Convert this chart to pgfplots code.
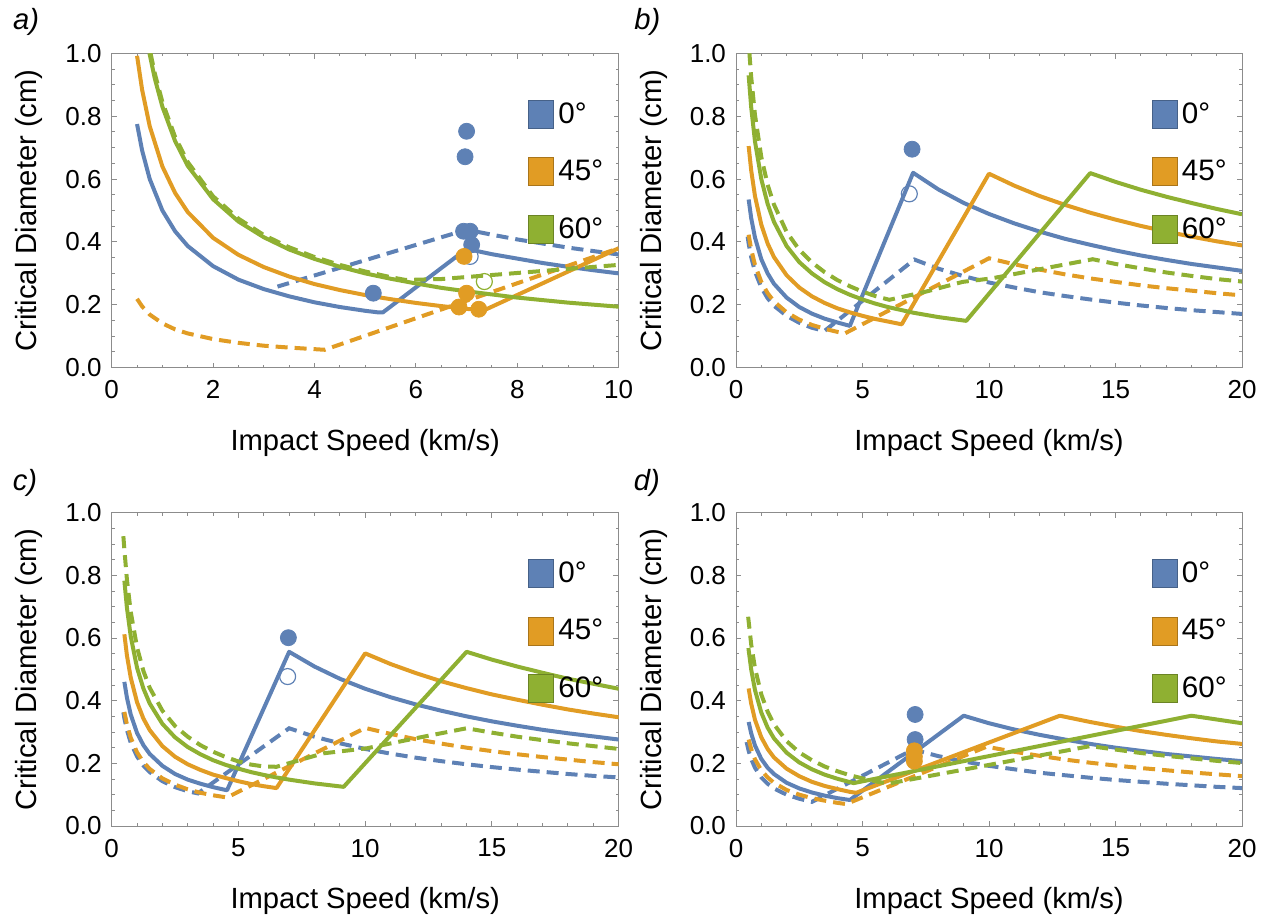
\documentclass[border=0pt]{standalone}
\usepackage{fontspec}
\setmainfont{Liberation Sans}
\usepackage{pgfplots}
\pgfplotsset{compat=1.18}
\definecolor{cblue}{HTML}{5E81B5}
\definecolor{corange}{HTML}{E19C24}
\definecolor{cgreen}{HTML}{8FB032}
\definecolor{framegray}{HTML}{8C8C8C}
\newcommand{\tickfont}{\fontsize{13}{13}\selectfont}
\newcommand{\labfont}{\fontsize{14.6}{15}\selectfont}
\newcommand{\legfont}{\fontsize{14.8}{15}\selectfont}
\tikzset{
  sl/.style={line width=2pt, line join=round},
  dl/.style={line width=2pt, dash pattern=on 6pt off 3.5pt},
}
\pgfplotsset{
  panel/.style={
    scale only axis, height=157.2pt,
    axis line style={draw=framegray, line width=0.5pt},
    every tick/.style={draw=framegray, line width=0.5pt},
    major tick length=2.6pt, minor tick length=1.5pt,
    tick align=inside,
    ymin=0, ymax=1, ytick={0,0.2,0.4,0.6,0.8,1}, minor y tick num=3,
    ticklabel style={font=\tickfont, /pgf/number format/assume math mode=true},
    yticklabel style={/pgf/number format/.cd, fixed, fixed zerofill, precision=1, /tikz/.cd, xshift=-1.5pt},
    xticklabel style={yshift=-3pt},
    xlabel={Impact Speed (km/s)}, ylabel={Critical Diameter (cm)},
    label style={font=\labfont},
    xlabel style={at={(axis description cs:0.5,-0.24)}, anchor=center},
    ylabel style={at={(axis description cs:-0.163,0.5)}, anchor=center},
    title style={font=\labfont\itshape, anchor=center},
    legend style={at={(rel axis cs:0.821,0.858)}, anchor=north west, draw=none, fill=none, font=\legfont, row sep=13pt, inner sep=0pt},
    legend cell align=left,
  },
  sw/.style={legend image code/.code={\draw[fill=#1, draw=#1!75!black, line width=0.5pt] (0pt,-7pt) rectangle (12.5pt,7pt);}},
}
\begin{document}
\begin{tikzpicture}
\useasboundingbox (0,0) rectangle (635pt,459pt);
% ---------------- panel a
\begin{axis}[panel, at={(55.85pt,275.15pt)}, anchor=south west, width=253.5pt,
  xmin=0, xmax=10, xtick={0,2,4,6,8,10}, minor x tick num=3,
  title={a)}, title style={at={(axis description cs:-0.169,1.06)}}]
\addplot[sl, cblue, forget plot] coordinates {(0.5,0.775)(0.6,0.691)(0.75,0.600)(1,0.500)(1.25,0.434)(1.5,0.387)(2,0.323)(2.5,0.280)(3,0.250)(3.5,0.227)(4,0.208)(4.5,0.193)(5,0.181)(5.25,0.176)(5.35,0.176)(7.0,0.378)(7.5,0.361)(8,0.347)(8.5,0.333)(9,0.321)(9.5,0.310)(10,0.300)};
\addplot[dl, cblue, forget plot] coordinates {(3.27,0.258)(7.0,0.439)(7.5,0.423)(8,0.408)(8.5,0.395)(9,0.382)(9.5,0.371)(10,0.360)};
\addplot[sl, corange, forget plot] coordinates {(0.5,0.992)(0.6,0.884)(0.75,0.768)(1,0.640)(1.25,0.556)(1.5,0.495)(2,0.413)(2.5,0.359)(3,0.320)(3.5,0.290)(4,0.266)(4.5,0.247)(5,0.231)(5.5,0.218)(6,0.206)(6.5,0.196)(7,0.187)(7.35,0.183)(10,0.380)};
\addplot[dl, corange, forget plot] coordinates {(0.5,0.219)(0.6,0.195)(0.75,0.169)(1,0.141)(1.25,0.122)(1.5,0.109)(2,0.091)(2.5,0.079)(3,0.070)(3.5,0.064)(4,0.059)(4.2,0.057)(10,0.380)};
\addplot[sl, cgreen, forget plot] coordinates {(0.745,1.0)(0.85,0.920)(1,0.830)(1.25,0.721)(1.5,0.642)(2,0.536)(2.5,0.465)(3,0.415)(3.5,0.376)(4,0.346)(4.5,0.321)(5,0.300)(5.5,0.283)(6,0.268)(6.5,0.254)(7,0.243)(8,0.223)(9,0.207)(10,0.194)};
\addplot[dl, cgreen, forget plot] coordinates {(0.766,1.0)(0.85,0.936)(1,0.845)(1.25,0.734)(1.5,0.654)(2,0.545)(2.5,0.474)(3,0.422)(3.5,0.383)(4,0.352)(4.5,0.327)(5,0.306)(5.5,0.288)(5.8,0.279)(6.5,0.282)(10,0.327)};
\addplot[only marks, mark=*, mark size=4pt, cblue, forget plot] coordinates {(7.0,0.752)(6.97,0.671)(6.94,0.434)(7.07,0.434)(7.1,0.391)(5.16,0.237)};
\addplot[only marks, mark=o, mark size=4pt, cblue, mark options={line width=0.6pt}, forget plot] coordinates {(7.07,0.354)};
\addplot[only marks, mark=*, mark size=4pt, corange, forget plot] coordinates {(6.95,0.354)(7.0,0.237)(6.85,0.193)(7.24,0.186)};
\addplot[only marks, mark=o, mark size=4pt, cgreen, mark options={line width=0.6pt}, forget plot] coordinates {(7.35,0.274)};
\addlegendimage{sw=cblue}\addlegendentry{0°}
\addlegendimage{sw=corange}\addlegendentry{45°}
\addlegendimage{sw=cgreen}\addlegendentry{60°}
\end{axis}
% ---------------- panel b
\begin{axis}[panel, at={(368pt,275.15pt)}, anchor=south west, width=253pt,
  xmin=0, xmax=20, xtick={0,5,10,15,20}, minor x tick num=4,
  title={b)}, title style={at={(axis description cs:-0.175,1.06)}}]
\addplot[sl, cblue, forget plot] coordinates {(0.5,0.535)(0.6,0.476)(0.75,0.414)(1,0.345)(1.25,0.300)(1.5,0.267)(2,0.223)(2.5,0.193)(3,0.172)(3.5,0.156)(4,0.144)(4.5,0.133)(7,0.620)(8,0.567)(9,0.524)(10,0.489)(11,0.459)(12,0.433)(13,0.410)(14,0.391)(15,0.373)(16,0.357)(17,0.343)(18,0.330)(19,0.319)(20,0.308)};
\addplot[dl, cblue, forget plot] coordinates {(0.46,0.417)(0.5,0.395)(0.6,0.352)(0.75,0.306)(1,0.255)(1.25,0.221)(1.5,0.197)(2,0.165)(2.5,0.143)(3,0.127)(3.5,0.117)(7.05,0.344)(8,0.315)(9,0.291)(10,0.271)(11,0.255)(12,0.240)(13,0.228)(14,0.217)(15,0.207)(16,0.198)(17,0.190)(18,0.183)(19,0.177)(20,0.171)};
\addplot[sl, corange, forget plot] coordinates {(0.5,0.705)(0.6,0.628)(0.75,0.546)(1,0.455)(1.25,0.395)(1.5,0.352)(2,0.294)(2.5,0.255)(3,0.227)(3.5,0.206)(4,0.189)(4.5,0.176)(5,0.165)(5.5,0.155)(6,0.147)(6.55,0.138)(10,0.617)(11,0.579)(12,0.546)(13,0.518)(14,0.493)(15,0.471)(16,0.451)(17,0.433)(18,0.417)(19,0.402)(20,0.389)};
\addplot[dl, corange, forget plot] coordinates {(0.5,0.423)(0.6,0.377)(0.75,0.327)(1,0.273)(1.25,0.237)(1.5,0.211)(2,0.176)(2.5,0.153)(3,0.136)(3.5,0.124)(4,0.114)(4.3,0.109)(10,0.348)(11,0.329)(12,0.312)(13,0.297)(14,0.284)(15,0.273)(16,0.262)(17,0.253)(18,0.245)(19,0.237)(20,0.230)};
\addplot[sl, cgreen, forget plot] coordinates {(0.5,0.930)(0.6,0.829)(0.75,0.720)(1,0.600)(1.25,0.521)(1.5,0.464)(2,0.387)(2.5,0.336)(3,0.300)(3.5,0.272)(4,0.250)(4.5,0.232)(5,0.217)(5.5,0.204)(6,0.193)(6.5,0.184)(7,0.175)(8,0.161)(9.1,0.149)(14,0.619)(15,0.591)(16,0.566)(17,0.544)(18,0.524)(19,0.505)(20,0.488)};
\addplot[dl, cgreen, forget plot] coordinates {(0.531,1.0)(0.6,0.925)(0.75,0.804)(1,0.670)(1.25,0.582)(1.5,0.519)(2,0.432)(2.5,0.375)(3,0.335)(3.5,0.304)(4,0.279)(4.5,0.259)(5,0.242)(5.5,0.228)(6.06,0.216)(7.51,0.242)(8.96,0.273)(10.1,0.284)(11.86,0.311)(14.1,0.345)(15,0.330)(16,0.316)(17,0.303)(18,0.292)(19,0.282)(20,0.274)};
\addplot[only marks, mark=*, mark size=4pt, cblue, forget plot] coordinates {(6.96,0.695)};
\addplot[only marks, mark=o, mark size=4pt, cblue, mark options={line width=0.6pt}, forget plot] coordinates {(6.85,0.553)};
\addlegendimage{sw=cblue}\addlegendentry{0°}
\addlegendimage{sw=corange}\addlegendentry{45°}
\addlegendimage{sw=cgreen}\addlegendentry{60°}
\end{axis}
% ---------------- panel c
\begin{axis}[panel, at={(55.85pt,46pt)}, anchor=south west, width=253.5pt, height=156.65pt,
  xmin=0, xmax=20, xtick={0,5,10,15,20}, minor x tick num=4,
  title={c)}, title style={at={(axis description cs:-0.171,1.058)}}]
\addplot[sl, cblue, forget plot] coordinates {(0.5,0.460)(0.6,0.410)(0.75,0.356)(1,0.297)(1.25,0.258)(1.5,0.230)(2,0.192)(2.5,0.166)(3,0.148)(3.5,0.135)(4,0.124)(4.55,0.114)(7,0.556)(8,0.509)(9,0.470)(10,0.438)(11,0.411)(12,0.388)(13,0.368)(14,0.350)(15,0.334)(16,0.320)(17,0.307)(18,0.296)(19,0.286)(20,0.276)};
\addplot[dl, cblue, forget plot] coordinates {(0.46,0.363)(0.5,0.344)(0.6,0.307)(0.75,0.266)(1,0.222)(1.25,0.193)(1.5,0.172)(2,0.143)(2.5,0.124)(3,0.111)(3.4,0.104)(7,0.312)(8,0.285)(9,0.264)(10,0.246)(11,0.231)(12,0.218)(13,0.207)(14,0.197)(15,0.188)(16,0.180)(17,0.173)(18,0.166)(19,0.160)(20,0.155)};
\addplot[sl, corange, forget plot] coordinates {(0.5,0.612)(0.6,0.545)(0.75,0.474)(1,0.395)(1.25,0.343)(1.5,0.306)(2,0.255)(2.5,0.221)(3,0.197)(3.5,0.179)(4,0.164)(4.5,0.153)(5,0.143)(5.5,0.134)(6,0.127)(6.5,0.121)(10,0.551)(11,0.517)(12,0.488)(13,0.462)(14,0.440)(15,0.420)(16,0.403)(17,0.387)(18,0.372)(19,0.359)(20,0.347)};
\addplot[dl, corange, forget plot] coordinates {(0.5,0.364)(0.6,0.325)(0.75,0.282)(1,0.235)(1.25,0.204)(1.5,0.182)(2,0.152)(2.5,0.132)(3,0.117)(3.5,0.106)(4,0.098)(4.55,0.091)(10,0.313)(11,0.294)(12,0.277)(13,0.263)(14,0.250)(15,0.239)(16,0.229)(17,0.220)(18,0.212)(19,0.204)(20,0.197)};
\addplot[sl, cgreen, forget plot] coordinates {(0.5,0.783)(0.6,0.697)(0.75,0.606)(1,0.505)(1.25,0.439)(1.5,0.391)(2,0.326)(2.5,0.283)(3,0.252)(3.5,0.229)(4,0.210)(4.5,0.195)(5,0.183)(5.5,0.172)(6,0.163)(6.5,0.155)(7,0.148)(8,0.136)(9.15,0.125)(14,0.556)(15,0.531)(16,0.509)(17,0.489)(18,0.470)(19,0.454)(20,0.438)};
\addplot[dl, cgreen, forget plot] coordinates {(0.46,0.925)(0.5,0.883)(0.6,0.787)(0.75,0.684)(1,0.570)(1.25,0.495)(1.5,0.441)(2,0.368)(2.5,0.319)(3,0.285)(3.5,0.258)(4,0.237)(4.5,0.220)(5,0.206)(5.5,0.196)(6,0.190)(6.5,0.189)(8.35,0.232)(10.06,0.248)(12.3,0.285)(14,0.312)(15,0.298)(16,0.285)(17,0.274)(18,0.264)(19,0.255)(20,0.246)};
\addplot[only marks, mark=*, mark size=4pt, cblue, forget plot] coordinates {(6.97,0.601)};
\addplot[only marks, mark=o, mark size=4pt, cblue, mark options={line width=0.6pt}, forget plot] coordinates {(6.94,0.477)};
\addlegendimage{sw=cblue}\addlegendentry{0°}
\addlegendimage{sw=corange}\addlegendentry{45°}
\addlegendimage{sw=cgreen}\addlegendentry{60°}
\end{axis}
% ---------------- panel d
\begin{axis}[panel, at={(368pt,46pt)}, anchor=south west, width=253pt, height=156.65pt,
  xmin=0, xmax=20, xtick={0,5,10,15,20}, minor x tick num=4,
  title={d)}, title style={at={(axis description cs:-0.176,1.058)}}]
\addplot[sl, cblue, forget plot] coordinates {(0.5,0.332)(0.6,0.296)(0.75,0.257)(1,0.214)(1.25,0.186)(1.5,0.166)(2,0.138)(2.5,0.120)(3,0.107)(3.5,0.097)(4,0.089)(4.5,0.083)(9,0.352)(10,0.328)(11,0.308)(12,0.291)(13,0.276)(14,0.262)(15,0.250)(16,0.240)(17,0.230)(18,0.222)(19,0.214)(20,0.207)};
\addplot[dl, cblue, forget plot] coordinates {(0.42,0.268)(0.5,0.240)(0.6,0.214)(0.75,0.186)(1,0.155)(1.25,0.135)(1.5,0.120)(2,0.100)(2.5,0.087)(3,0.077)(7,0.244)(8,0.223)(9,0.206)(10,0.192)(11,0.181)(12,0.170)(13,0.162)(14,0.154)(15,0.147)(16,0.141)(17,0.135)(18,0.130)(19,0.125)(20,0.121)};
\addplot[sl, corange, forget plot] coordinates {(0.5,0.439)(0.6,0.391)(0.75,0.339)(1,0.283)(1.25,0.246)(1.5,0.219)(2,0.183)(2.5,0.159)(3,0.141)(3.5,0.128)(4,0.118)(4.5,0.109)(4.75,0.106)(12.8,0.352)(14,0.332)(15,0.317)(16,0.303)(17,0.291)(18,0.280)(19,0.270)(20,0.262)};
\addplot[dl, corange, forget plot] coordinates {(0.5,0.276)(0.6,0.246)(0.75,0.213)(1,0.178)(1.25,0.155)(1.5,0.138)(2,0.115)(2.5,0.100)(3,0.089)(3.5,0.081)(4,0.074)(4.35,0.070)(9.9,0.253)(11,0.237)(12,0.224)(13,0.212)(14,0.202)(15,0.193)(16,0.185)(17,0.178)(18,0.171)(19,0.165)(20,0.159)};
\addplot[sl, cgreen, forget plot] coordinates {(0.49,0.568)(0.6,0.500)(0.75,0.434)(1,0.362)(1.25,0.314)(1.5,0.280)(2,0.234)(2.5,0.203)(3,0.181)(3.5,0.164)(4,0.151)(4.5,0.140)(4.65,0.137)(18,0.352)(19,0.340)(20,0.328)};
\addplot[dl, cgreen, forget plot] coordinates {(0.48,0.668)(0.6,0.580)(0.75,0.504)(1,0.420)(1.25,0.365)(1.5,0.325)(2,0.271)(2.5,0.235)(3,0.210)(3.5,0.190)(4,0.175)(4.5,0.162)(5,0.152)(5.5,0.143)(6,0.135)(14,0.255)(15,0.244)(16,0.233)(17,0.224)(18,0.216)(19,0.208)(20,0.201)};
\addplot[only marks, mark=*, mark size=4pt, cblue, forget plot] coordinates {(7.08,0.356)(7.08,0.276)};
\addplot[only marks, mark=*, mark size=4pt, corange, forget plot] coordinates {(7.05,0.240)(7.05,0.222)(7.05,0.207)};
\addlegendimage{sw=cblue}\addlegendentry{0°}
\addlegendimage{sw=corange}\addlegendentry{45°}
\addlegendimage{sw=cgreen}\addlegendentry{60°}
\end{axis}
\end{tikzpicture}
\end{document}
